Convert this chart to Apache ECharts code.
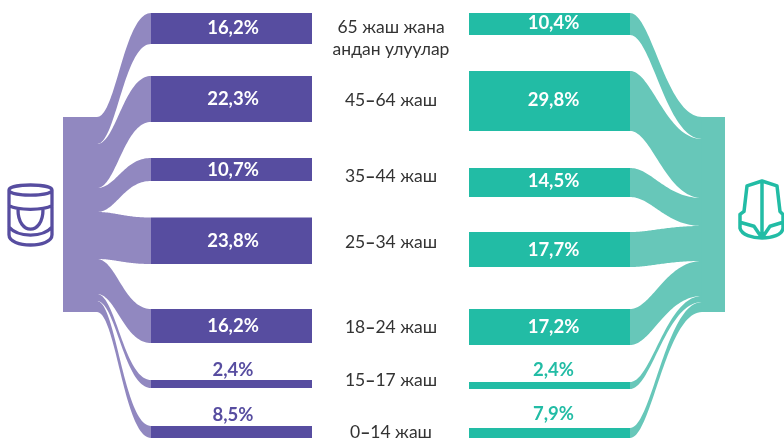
<!DOCTYPE html>
<html><head><meta charset="utf-8">
<style>html,body{margin:0;padding:0;background:#fff}#c{width:784px;height:439px}</style>
<script src="https://cdn.jsdelivr.net/npm/echarts@6/dist/echarts.min.js"></script>
</head><body><div id="c"></div>
<script>
// Values printed on the chart
const ageGroups = ['65 жаш жана\nандан улуулар','45–64 жаш','35–44 жаш','25–34 жаш','18–24 жаш','15–17 жаш','0–14 жаш'];
const leftValues = ['16,2%','22,3%','10,7%','23,8%','16,2%','2,4%','8,5%'];
const rightValues = ['10,4%','29,8%','14,5%','17,7%','17,2%','2,4%','7,9%'];

// Band extents, in y-axis units (the drawn bands are not strictly proportional)
const leftBarTop = [13,76,158,217.5,309,380,426];
const leftBarBottom = [44,122,181,264,343,388,438];
const leftFlowTop = [117,144,188,212,259,294,301];
const leftFlowBottom = [144,188,212,259,294,301,312];
const rightBarTop = [13,71,168,232,309,382,428];
const rightBarBottom = [35,131,197,267,345,389,438];
const rightFlowTop = [117,139,198,226,261,296,302];
const rightFlowBottom = [139,198,226,261,296,302,312];

// Text baselines (y-axis units)
const leftLabelY = [28,99,170,241,326,370,415];
const rightLabelY = [23,100,181,250,327,370,414];
const ageLabelY = [38,100,176,242,327,380,432];

const PURPLE='#574da0', PURPLE_L='#9188c0', TEAL='#22bca5', TEAL_L='#67c7b9', INK='#333333';
const FONT='Lato, "Open Sans", sans-serif';
const L={stack0:63,stack1:97,bar0:151,bar1:312,text:233}, R={bar0:469,bar1:630,stack0:702,stack1:725,text:553.5};

function curve(p0,p1,n,c1,c2){ // horizontal-tangent bezier between [x,y] pairs, in axis units
  const a=p0[0]+(p1[0]-p0[0])*c1, b=p0[0]+(p1[0]-p0[0])*c2, pts=[];
  for(let i=0;i<=n;i++){const t=i/n,u=1-t;
    pts.push([u*u*u*p0[0]+3*u*u*t*a+3*u*t*t*b+t*t*t*p1[0],
              u*u*u*p0[1]+3*u*u*t*p0[1]+3*u*t*t*p1[1]+t*t*t*p1[1]]);}
  return pts;
}
function ribbon(api,x0,x1,fromTop,fromBottom,toTop,toBottom,color,c1,c2){
  const pts=curve([x0,fromTop],[x1,toTop],48,c1,c2).concat(curve([x0,fromBottom],[x1,toBottom],48,c1,c2).reverse());
  return {type:'polygon',shape:{points:pts.map(p=>api.coord(p))},style:{fill:color}};
}
function rect(api,x0,x1,y0,y1,color){
  const a=api.coord([x0,y0]),b=api.coord([x1,y1]);
  return {type:'rect',shape:{x:a[0],y:a[1],width:b[0]-a[0],height:b[1]-a[1]},style:{fill:color}};
}
const idx=ageGroups.map((_,i)=>i);

const strokeL={fill:null,stroke:PURPLE,lineWidth:3.3,lineCap:'round',lineJoin:'round'};
const strokeR={fill:null,stroke:TEAL,lineWidth:3.5,lineCap:'round',lineJoin:'round'};

// the dash in the age labels is drawn heavier than the rest of the text
function dashRich(s){ return s.replace(/([^\n–]*)–([^\n]*)/,'{t|$1}{d|–}{t|$2}'); }

const series=[
 {type:'custom',silent:true,data:idx,coordinateSystem:'cartesian2d',z:1,renderItem:(p,api)=>{
   const i=api.value(0);
   return ribbon(api,L.stack1,L.bar0,leftFlowTop[i],leftFlowBottom[i],leftBarTop[i],leftBarBottom[i],PURPLE_L,0.35,0.5);}},
 {type:'custom',silent:true,data:idx,z:1,renderItem:(p,api)=>{
   const i=api.value(0);
   return ribbon(api,R.bar1,R.stack0,rightBarTop[i],rightBarBottom[i],rightFlowTop[i],rightFlowBottom[i],TEAL_L,0.3,0.5);}},
 {type:'custom',silent:true,data:idx,z:2,renderItem:(p,api)=>{
   const i=api.value(0);
   return {type:'group',children:[
     rect(api,L.stack0,L.stack1+0.5,leftFlowTop[i],leftFlowBottom[i],PURPLE_L),
     rect(api,R.stack0-0.5,R.stack1,rightFlowTop[i],rightFlowBottom[i],TEAL_L),
     rect(api,L.bar0,L.bar1,leftBarTop[i],leftBarBottom[i],PURPLE),
     rect(api,R.bar0,R.bar1,rightBarTop[i],rightBarBottom[i],TEAL)
   ]};}},
 {type:'custom',silent:true,data:idx,z:3,renderItem:(p,api)=>{
   const i=api.value(0);
   const pct=(x,y,t,fill)=>{const c=api.coord([x,y]);
     return {type:'text',x:c[0],y:c[1],style:{text:t,fill,font:`700 18.5px ${FONT}`,align:'center',verticalAlign:'middle'}};};
   const thin=i>=5;
   const c=api.coord([391,ageLabelY[i]]);
   const reg=`400 17.5px ${FONT}`;
   return {type:'group',children:[
     pct(L.text,leftLabelY[i],leftValues[i],thin?PURPLE:'#fff'),
     pct(R.text,rightLabelY[i],rightValues[i],thin?TEAL:'#fff'),
     {type:'text',x:c[0],y:c[1],style:{text:dashRich(ageGroups[i]),fill:INK,font:reg,lineHeight:22,align:'center',verticalAlign:'middle',
       rich:{t:{font:reg,fill:INK},d:{font:`900 17.5px ${FONT}`,fill:INK}}}}
   ]};}},
 {type:'custom',silent:true,data:[0],z:3,renderItem:()=>({type:'group',children:[
   {type:'path',shape:{pathData:'M9 189 C9 182 52 182 52 189 C52 196 9 196 9 189 Z M9 189 L9 235 C9 249 52 249 52 235 L52 189 M9 205 C18 210 43 210 52 205 M18 209 C18 236 43 236 43 209 M9 227 C18 238 43 238 52 227',layout:'cover',x:9,y:185,width:43,height:60},style:strokeL},
   {type:'path',shape:{pathData:'M762 180 L747 185 L744 211 L740 214 L740 228 C742 235 752 238 762 238 C772 238 782 235 783 228 L783 214 L780 211 L777 185 Z M762 180 L762 238 M740 222 L754 226 L762 238 L770 226 L783 222',layout:'cover',x:740,y:181,width:43,height:57},style:strokeR}
 ]})}
];

const chart=echarts.init(document.getElementById('c'),null,{renderer:'canvas'});
chart.setOption({
 animation:false,backgroundColor:'#fff',
 grid:{left:0,right:0,top:0,bottom:0},
 xAxis:{type:'value',min:0,max:784,show:false},
 yAxis:{type:'value',min:0,max:439,inverse:true,show:false},
 tooltip:{show:false},
 series
});
</script></body></html>
